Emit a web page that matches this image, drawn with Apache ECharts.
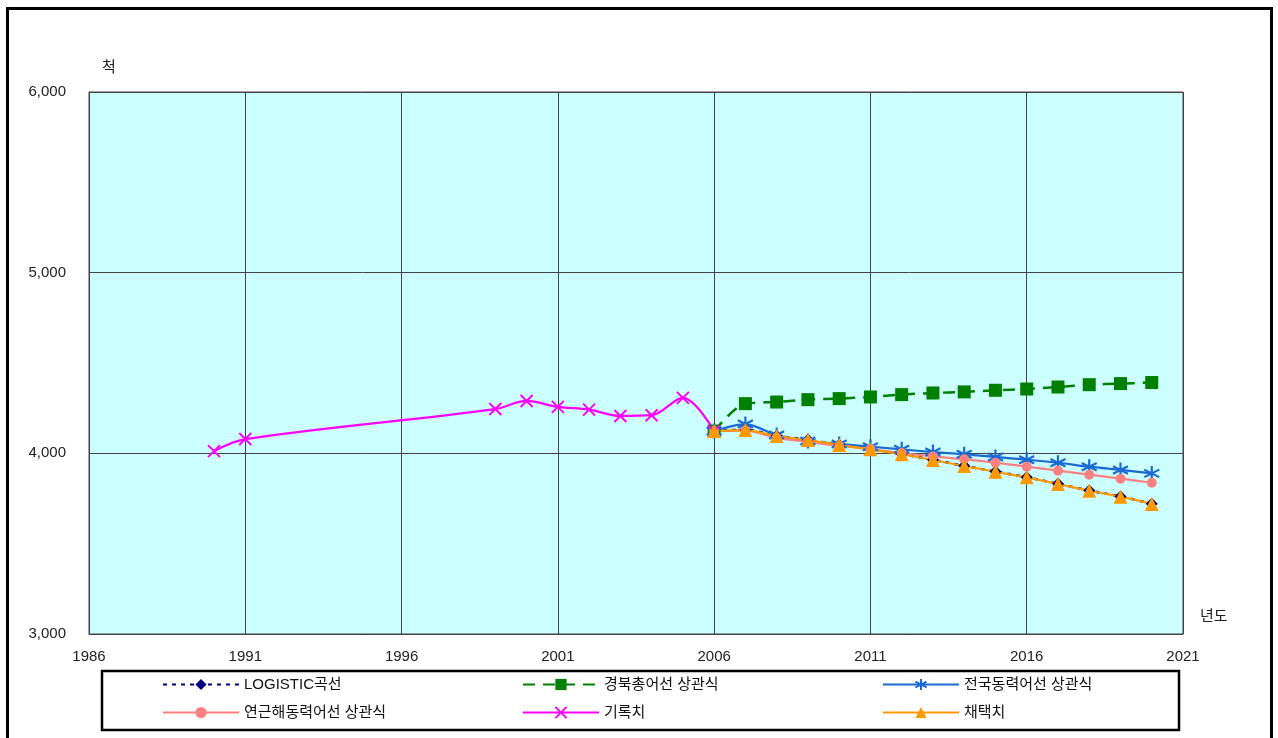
<!DOCTYPE html>
<html>
<head>
<meta charset="utf-8">
<script src="https://cdn.jsdelivr.net/npm/echarts@6/dist/echarts.min.js"></script>
<style>
html,body{margin:0;padding:0;background:#fff;}
#chart{width:1278px;height:738px;}
</style>
</head>
<body>
<div id="chart"></div>
<script>
// ---- data ----
const recordYears = [1990, 1991, 1999, 2000, 2001, 2002, 2003, 2004, 2005, 2006];
const recordValues = [4012, 4079, 4245, 4290, 4257, 4242, 4207, 4211, 4307, 4123];

const projYears = [2006, 2007, 2008, 2009, 2010, 2011, 2012, 2013, 2014, 2015, 2016, 2017, 2018, 2019, 2020];
const logisticValues = [4123, 4131, 4097, 4075, 4047, 4023, 3996, 3964, 3931, 3899, 3868, 3831, 3794, 3761, 3721];
const gyeongbukValues = [4123, 4275, 4284, 4297, 4303, 4312, 4325, 4334, 4340, 4349, 4356, 4367, 4380, 4386, 4392];
const nationalValues = [4123, 4162, 4101, 4068, 4052, 4037, 4022, 4007, 3995, 3980, 3965, 3948, 3926, 3908, 3889];
const coastalValues = [4123, 4125, 4086, 4064, 4042, 4024, 4002, 3983, 3967, 3948, 3926, 3904, 3882, 3860, 3837];
const adoptedValues = [4123, 4129, 4096, 4074, 4046, 4022, 3995, 3963, 3930, 3898, 3867, 3830, 3793, 3760, 3720];

const seriesNames = ['LOGISTIC곡선', '경북총어선 상관식', '전국동력어선 상관식', '연근해동력어선 상관식', '기록치', '채택치'];
const yAxisName = '척';
const xAxisName = '년도';

const xMin = 1986, xMax = 2021, xInterval = 5;
const yMin = 3000, yMax = 6000, yInterval = 1000;

// ---- build ----
const pairs = (xs, ys) => xs.map((x, i) => [x, ys[i]]);
const FONT = '"Liberation Sans", "Noto Sans CJK KR", sans-serif';
const asterisk = 'path://M5,0L5,10M0.7,2.5L9.3,7.5M9.3,2.5L0.7,7.5';
const xMark = 'path://M0,0L10,10M10,0L0,10';

const colors = ['#000080', '#008000', '#1a6ad2', '#ff8080', '#ff00ff', '#ff9900'];

const series = [
  {
    name: seriesNames[0], type: 'line', data: pairs(projYears, logisticValues), smooth: 0.3,
    symbol: 'diamond', symbolSize: 12,
    lineStyle: {color: colors[0], width: 2.5, type: [4, 5]},
    itemStyle: {color: colors[0]}
  },
  {
    name: seriesNames[1], type: 'line', data: pairs(projYears, gyeongbukValues), smooth: 0.3,
    symbol: 'rect', symbolSize: 13,
    lineStyle: {color: colors[1], width: 2.5, type: [12, 8]},
    itemStyle: {color: colors[1]}
  },
  {
    name: seriesNames[2], type: 'line', data: pairs(projYears, nationalValues), smooth: 0.3,
    symbol: asterisk, symbolSize: 15,
    lineStyle: {color: colors[2], width: 2.2},
    itemStyle: {color: 'rgba(0,0,0,0)', borderColor: colors[2], borderWidth: 2.2}
  },
  {
    name: seriesNames[3], type: 'line', data: pairs(projYears, coastalValues), smooth: 0.3,
    symbol: 'circle', symbolSize: 10,
    lineStyle: {color: colors[3], width: 2.2},
    itemStyle: {color: colors[3]}
  },
  {
    name: seriesNames[4], type: 'line', data: pairs(recordYears, recordValues), smooth: 0.35,
    symbol: xMark, symbolSize: 12,
    lineStyle: {color: colors[4], width: 2.2},
    itemStyle: {color: 'rgba(0,0,0,0)', borderColor: colors[4], borderWidth: 2}
  },
  {
    name: seriesNames[5], type: 'line', data: pairs(projYears, adoptedValues), smooth: 0.3,
    symbol: 'triangle', symbolSize: 14,
    lineStyle: {color: colors[5], width: 2.2},
    itemStyle: {color: colors[5]}
  }
];

const legendPos = [
  [162, 677], [522, 677], [882, 677],
  [162, 705], [522, 705], [882, 705]
];
const legends = seriesNames.map((n, i) => ({
  data: [n], left: legendPos[i][0], top: legendPos[i][1],
  itemWidth: 76, itemHeight: 14, padding: 0,
  textStyle: {fontFamily: FONT, fontSize: 15, color: '#111'},
  selectedMode: false
}));

const chart = echarts.init(document.getElementById('chart'), null, {renderer: 'canvas'});
chart.setOption({
  animation: false,
  backgroundColor: '#fff',
  grid: {left: 89, top: 92, width: 1094, height: 542, show: true, backgroundColor: '#ccffff', borderColor: '#444', borderWidth: 1},
  xAxis: {
    type: 'value', min: xMin, max: xMax, interval: xInterval,
    axisLine: {show: true, lineStyle: {color: '#444'}},
    axisTick: {show: false},
    axisLabel: {margin: 15, fontFamily: FONT, fontSize: 15, color: '#222', formatter: v => String(v)},
    splitLine: {show: true, lineStyle: {color: '#444', width: 1}}
  },
  yAxis: {
    type: 'value', min: yMin, max: yMax, interval: yInterval,
    axisLine: {show: true, lineStyle: {color: '#444'}},
    axisTick: {show: false},
    axisLabel: {margin: 23, fontFamily: FONT, fontSize: 15, color: '#222', formatter: v => v.toLocaleString('en-US')},
    splitLine: {show: true, lineStyle: {color: '#444', width: 1}}
  },
  legend: legends,
  series: series,
  graphic: [
    {type: 'rect', shape: {x: 7.5, y: 8.5, width: 1264, height: 760}, style: {fill: 'none', stroke: '#000', lineWidth: 3}, silent: true},
    {type: 'rect', shape: {x: 102, y: 671, width: 1077, height: 59}, style: {fill: 'none', stroke: '#000', lineWidth: 2.5}, silent: true},
    {type: 'text', left: 102, top: 60, style: {text: yAxisName, font: '15px ' + FONT, fill: '#222'}},
    {type: 'text', left: 1200, top: 609, style: {text: xAxisName, font: '15px ' + FONT, fill: '#222'}}
  ]
});
</script>
</body>
</html>
